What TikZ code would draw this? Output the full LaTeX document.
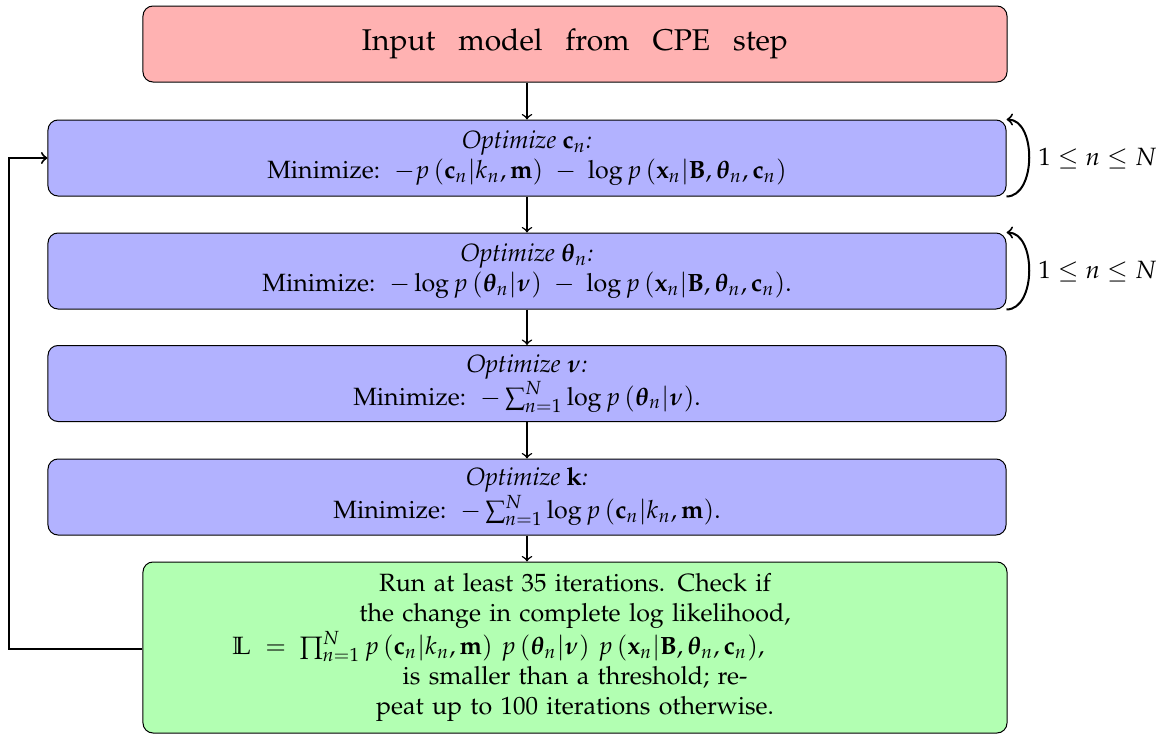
\documentclass[tikz,border=0pt]{standalone}
\usepackage[T1]{fontenc}
\usepackage{amsmath}
\usepackage{mathpazo}
\usepackage{bm}

\begin{document}
\begin{tikzpicture}[
      x = .4pt, y = -.4pt,
      box/.style = {
        rectangle, rounded corners, draw, black, align = center,
        minimum height = 30.4pt, inner sep = 3pt},
      inbox/.style = {box, fill = red!30, minimum width = 345.6pt, font = \large},
      optbox/.style = {box, fill = blue!30, minimum width = 383.2pt},
      endbox/.style = {box, fill = green!30, minimum width = 345.6pt,
        minimum height = 68.4pt, text width = 276pt},
      flow/.style = {->, semithick},
      loop/.style = {->, thick}
      ]
    \useasboundingbox (0,0) rectangle (1156,734);
    \node[inbox] (input) at (575,44) {\makebox[170.4pt][s]{Input model from CPE step}};
    \node[optbox] (optc) at (527,158) {\emph{Optimize $\mathbf{c}_n$:}\\
      Minimize:~ $-p\left(\mathbf{c}_n \middle| k_n, \mathbf{m}\right)
      \;-\; \log p\left(\mathbf{x}_n \middle| \mathbf{B}, \bm{\theta}_n, \mathbf{c}_n\right)$};
    \node[optbox] (optth) at (527,271) {\emph{Optimize $\bm{\theta}_n$:}\\
      Minimize:~ $-\log p\left(\bm{\theta}_n \middle| \bm{\nu}\right)
      \;-\; \log p\left(\mathbf{x}_n \middle| \mathbf{B}, \bm{\theta}_n, \mathbf{c}_n\right)$.};
    \node[optbox] (optnu) at (527,383.5) {\emph{Optimize $\bm{\nu}$:}\\
      Minimize:~ $-\sum_{n=1}^N \log p\left(\bm{\theta}_n \middle| \bm{\nu}\right)$.};
    \node[optbox] (optk) at (527,497) {\emph{Optimize $\mathbf{k}$:}\\
      Minimize:~ $-\sum_{n=1}^N \log p\left(\mathbf{c}_n \middle| k_n, \mathbf{m}\right)$.};
    \node[endbox] (check) at (575,647.5) {Run at least 35 iterations. Check if\\
      the change in complete log likelihood,\\
      \makebox[276pt][l]{\hspace{1pt}$\mathbb{L} \;=\; \prod_{n=1}^N p\left(\mathbf{c}_n \middle| k_n, \mathbf{m}\right)
      \, p\left(\bm{\theta}_n \middle| \bm{\nu}\right)
      \, p\left(\mathbf{x}_n \middle| \mathbf{B}, \bm{\theta}_n, \mathbf{c}_n\right)$,}\\
      is smaller than a threshold; re-\\
      peat up to 100 iterations otherwise.};
    \coordinate (back) at (9,649);
    % main flow
    \draw[flow] (input.south -| optc.north) -- (optc.north);
    \draw[flow] (optc) -- (optth);
    \draw[flow] (optth) -- (optnu);
    \draw[flow] (optnu) -- (optk);
    \draw[flow] (optk.south) -- (optk.south |- check.north);
    % repeat loop
    \draw[loop] (check.west |- back) -- (back) |- (optc.west);
    \draw[loop] (optc.south east) to[out=0, in=0]
      node[right] {$1 \leq n \leq N$} (optc.north east);
    \draw[loop] (optth.south east) to[out=0, in=0]
      node[right] {$1 \leq n \leq N$} (optth.north east);
  \end{tikzpicture}
\end{document}
